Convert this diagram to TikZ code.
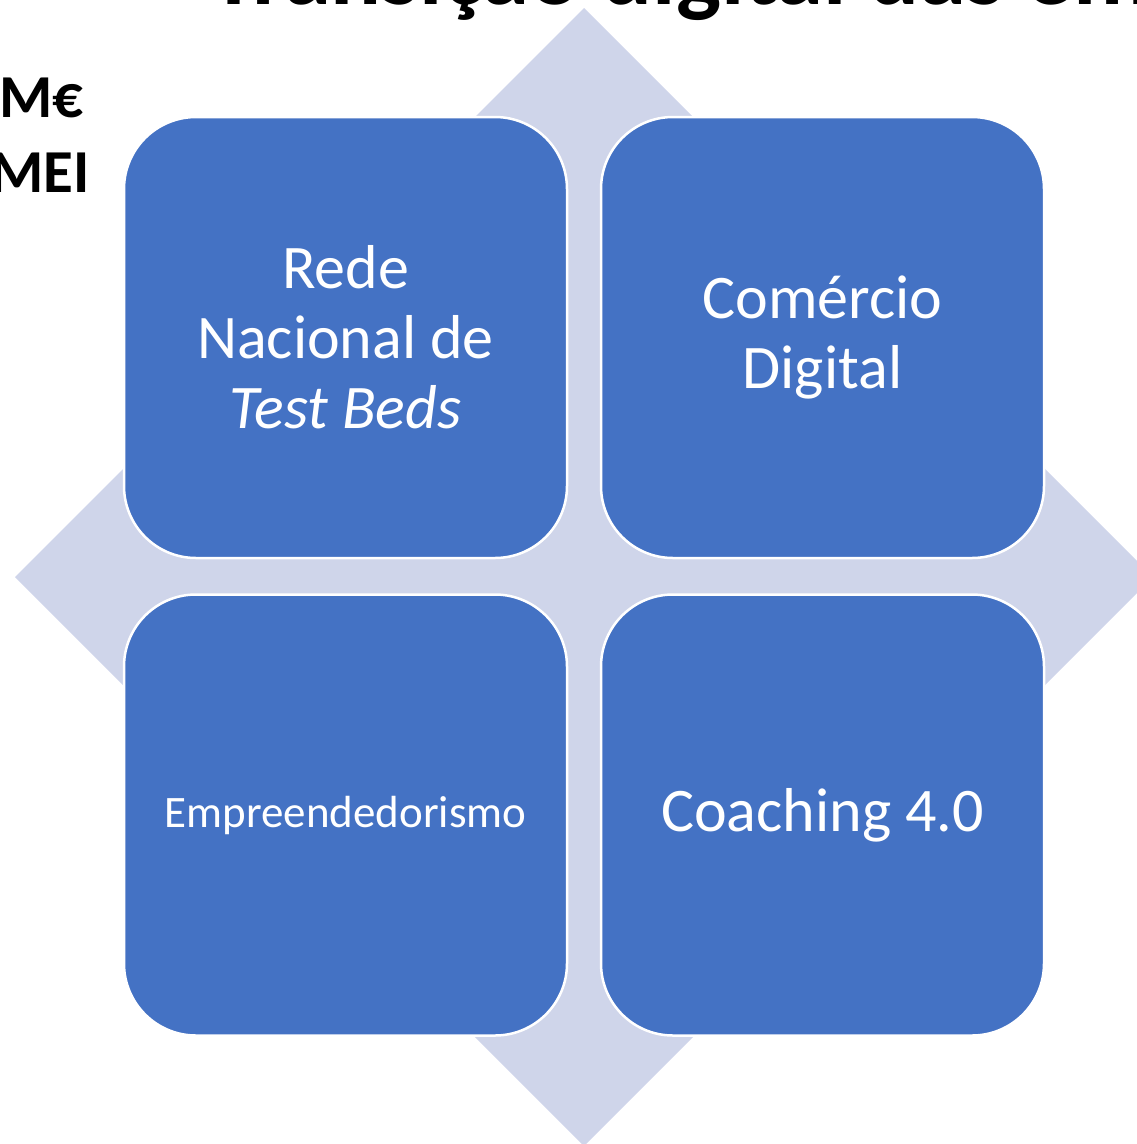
\documentclass[tikz,border=0pt]{standalone}
\usepackage{fontspec}
\setmainfont{Carlito}
\definecolor{boxblue}{HTML}{4472C4}
\definecolor{diamfill}{HTML}{CFD5EA}
\begin{document}
\begin{tikzpicture}[x=1pt,y=-1pt,
  box/.style={fill=boxblue, draw=white, line width=2.5pt, rounded corners=72pt,
    minimum width=443pt, minimum height=441pt, inner sep=0pt, text=white, align=center,
    font=\fontsize{62}{70}\selectfont},
  diam/.style={fill=diamfill},
  headtext/.style={font=\bfseries\fontsize{95}{114}\selectfont, inner sep=0pt},
  sidetext/.style={font=\bfseries\fontsize{61}{70}\selectfont, inner sep=0pt}]
\useasboundingbox (0,0) rectangle (1137,1144);
\clip (0,0) rectangle (1137,1144);
\fill[diam] (584,8) -- (1153,577) -- (584,1146) -- (15,577) -- cycle;
\node[headtext, anchor=base west] (title) at (210,4) {Transição digital das empresas};
\node[sidetext, anchor=base east] (meur) at (84,117) {M€};
\node[sidetext, anchor=base east] (mei) at (90,192) {MEI};
\node[box] (tl) at (345.5,337.5) {Rede\\Nacional de\\\textit{Test Beds}};
\node[box] (tr) at (822.5,337.5) {Comércio\\Digital};
\node[box] (bl) at (345.5,815) {\fontsize{45}{54}\selectfont Empreendedorismo};
\node[box] (br) at (822.5,815) {Coaching 4.0};
\end{tikzpicture}
\end{document}
